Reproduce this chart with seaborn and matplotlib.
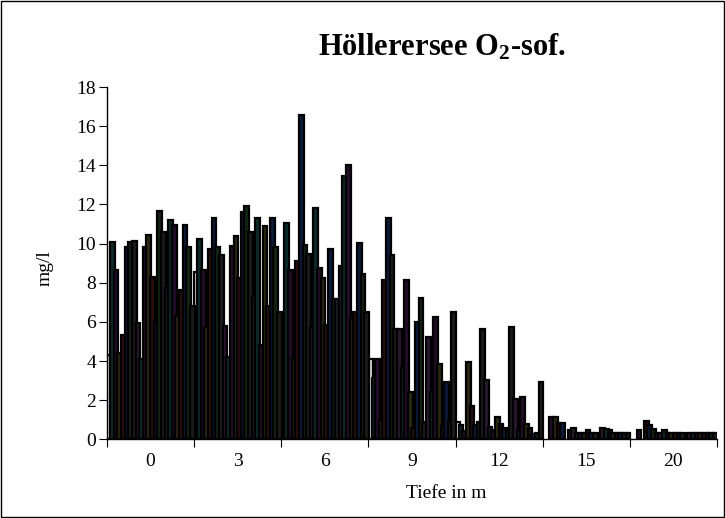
import matplotlib.pyplot as plt
import matplotlib.ticker as mticker
import numpy as np
import pandas as pd
import seaborn as sns
from matplotlib.patches import Rectangle

nan = np.nan

# Depth categories (x axis) and measurement series (one bar per series in each depth)
depths = ["0", "3", "6", "9", "12", "15", "20"]
series = [f"Termin {i + 1}" for i in range(24)]

# O2 in mg/l, one list per depth, in series order
o2_0m = [4.3, 10.1, 8.65, 4.4, 5.33, 9.85, 10.1, 10.14, 5.93, 4.1, 9.82, 10.44,
         8.3, 6.0, 11.64, 10.6, 7.72, 11.2, 10.95, 6.3, 7.63, 10.95, 9.82, 6.8]
o2_3m = [8.57, 10.22, 8.65, 5.72, 9.73, 11.3, 9.82, 9.42, 5.81, 4.2, 9.9, 10.41,
         8.23, 11.6, 11.93, 10.61, 7.33, 11.3, 4.8, 10.92, 6.8, 11.3, 9.82, 6.52]
o2_6m = [4.2, 11.04, 8.65, 4.14, 9.12, 16.55, 9.93, 9.46, 5.72, 11.84, 8.74, 8.23,
         5.84, 9.73, 7.16, 7.16, 8.83, 13.43, 14.02, 6.19, 6.52, 10.02, 8.43, 6.52]
o2_9m = [4.09, 3.12, 4.1, 1.0, 8.14, 11.33, 9.42, 5.62, 5.62, 3.71, 8.14, 2.43,
         0.6, 6.01, 7.24, 0.9, 5.25, 2.43, 6.24, 3.83, 0.7, 2.91, 1.0, 6.52]
o2_12m = [0.87, 0.73, 0.4, 3.94, 1.72, 0.73, 0.9, 5.62, 3.03, 0.64, 0.5, 1.12,
          0.8, 0.6, 0.5, 5.72, 2.04, 0.5, 2.18, 0.8, 0.6, 0.27, 0.3, 2.91]
o2_15m = [nan, nan, 1.12, 1.12, 0.82, 0.82, nan, 0.5, 0.6, 0.3, 0.3, 0.3,
          0.5, 0.3, 0.3, nan, 0.6, 0.55, 0.5, 0.3, 0.3, 0.3, 0.3, 0.3]
o2_20m = [nan, nan, 0.5, nan, 0.94, 0.73, 0.51, 0.3, 0.3, 0.5, 0.3, 0.3,
          0.3, 0.3, 0.3, nan, 0.3, 0.3, 0.3, 0.3, 0.3, 0.3, 0.3, 0.3]

values = [o2_0m, o2_3m, o2_6m, o2_9m, o2_12m, o2_15m, o2_20m]

# Long table for seaborn
rows = []
for depth, vals in zip(depths, values):
    for s, v in zip(series, vals):
        rows.append({"Tiefe": depth, "Serie": s, "O2": v})
df = pd.DataFrame(rows)

# Series colours: first one light, the rest very dark (the print looks almost black)
dark = ["#0c2a2a", "#220c2a", "#2a2810", "#2a0c0c", "#0c1a3a", "#122412",
        "#1a1a1a", "#2a1830"]
colors = ["#d9d9d9"] + [dark[i % len(dark)] for i in range(23)]

sns.set_style("ticks")
plt.rcParams["font.family"] = ["Liberation Serif", "DejaVu Serif"]
plt.rcParams["mathtext.default"] = "regular"
plt.rcParams["text.color"] = "black"

fig = plt.figure(figsize=(7.25, 5.18), dpi=100)
ax = fig.add_axes([107 / 725, 1 - 439.3 / 518, 610 / 725, (439.3 - 87) / 518])

sns.barplot(
    data=df, x="Tiefe", y="O2", hue="Serie", order=depths, hue_order=series,
    palette=colors, width=1.0, dodge=True, errorbar=None, legend=False,
    saturation=1, edgecolor="black", linewidth=1.6, ax=ax,
)

# Excel-style overlap: widen every bar a bit around its centre
for p in ax.patches:
    w = p.get_width()
    p.set_x(p.get_x() - 0.15 * w)
    p.set_width(w * 1.3)

ax.set_xlim(-0.5, len(depths) - 0.5)
ax.set_ylim(0, 18)
ax.yaxis.set_major_locator(mticker.MultipleLocator(2))

# ticks between categories, labels in the middle
ax.xaxis.set_major_locator(mticker.FixedLocator(np.arange(-0.5, len(depths), 1.0)))
ax.xaxis.set_major_formatter(mticker.NullFormatter())
ax.xaxis.set_minor_locator(mticker.FixedLocator(np.arange(len(depths))))
ax.xaxis.set_minor_formatter(mticker.FixedFormatter(depths))
ax.tick_params(axis="x", which="major", length=6, width=0.8, color="black")
ax.tick_params(axis="x", which="minor", length=0, pad=10, labelsize=14, labelcolor="black")
ax.tick_params(axis="y", length=6, width=0.8, color="black", labelsize=14, pad=2,
               labelcolor="black")

for side in ["top", "right"]:
    ax.spines[side].set_visible(False)
for side in ["left", "bottom"]:
    ax.spines[side].set_color("black")
    ax.spines[side].set_linewidth(1.0)

ax.set_xlabel("")
ax.set_ylabel("")
fig.text(446 / 725, 1 - 494 / 518, "Tiefe in m", ha="center", va="center", fontsize=14)
fig.text(45 / 725, 1 - 268 / 518, "mg/l", ha="center", va="center", rotation=90, fontsize=14)
fig.text(442 / 725, 1 - 47 / 518, "Höllerersee O$_\\mathregular{2}$-sof.", ha="center",
         va="center", fontsize=22, fontweight="bold")

# chart area frame
fig.patches.append(Rectangle((0.001, 0.001), 0.997, 0.997, transform=fig.transFigure,
                             fill=False, edgecolor="black", linewidth=1.0))

fig.savefig("out.png", dpi=100)
